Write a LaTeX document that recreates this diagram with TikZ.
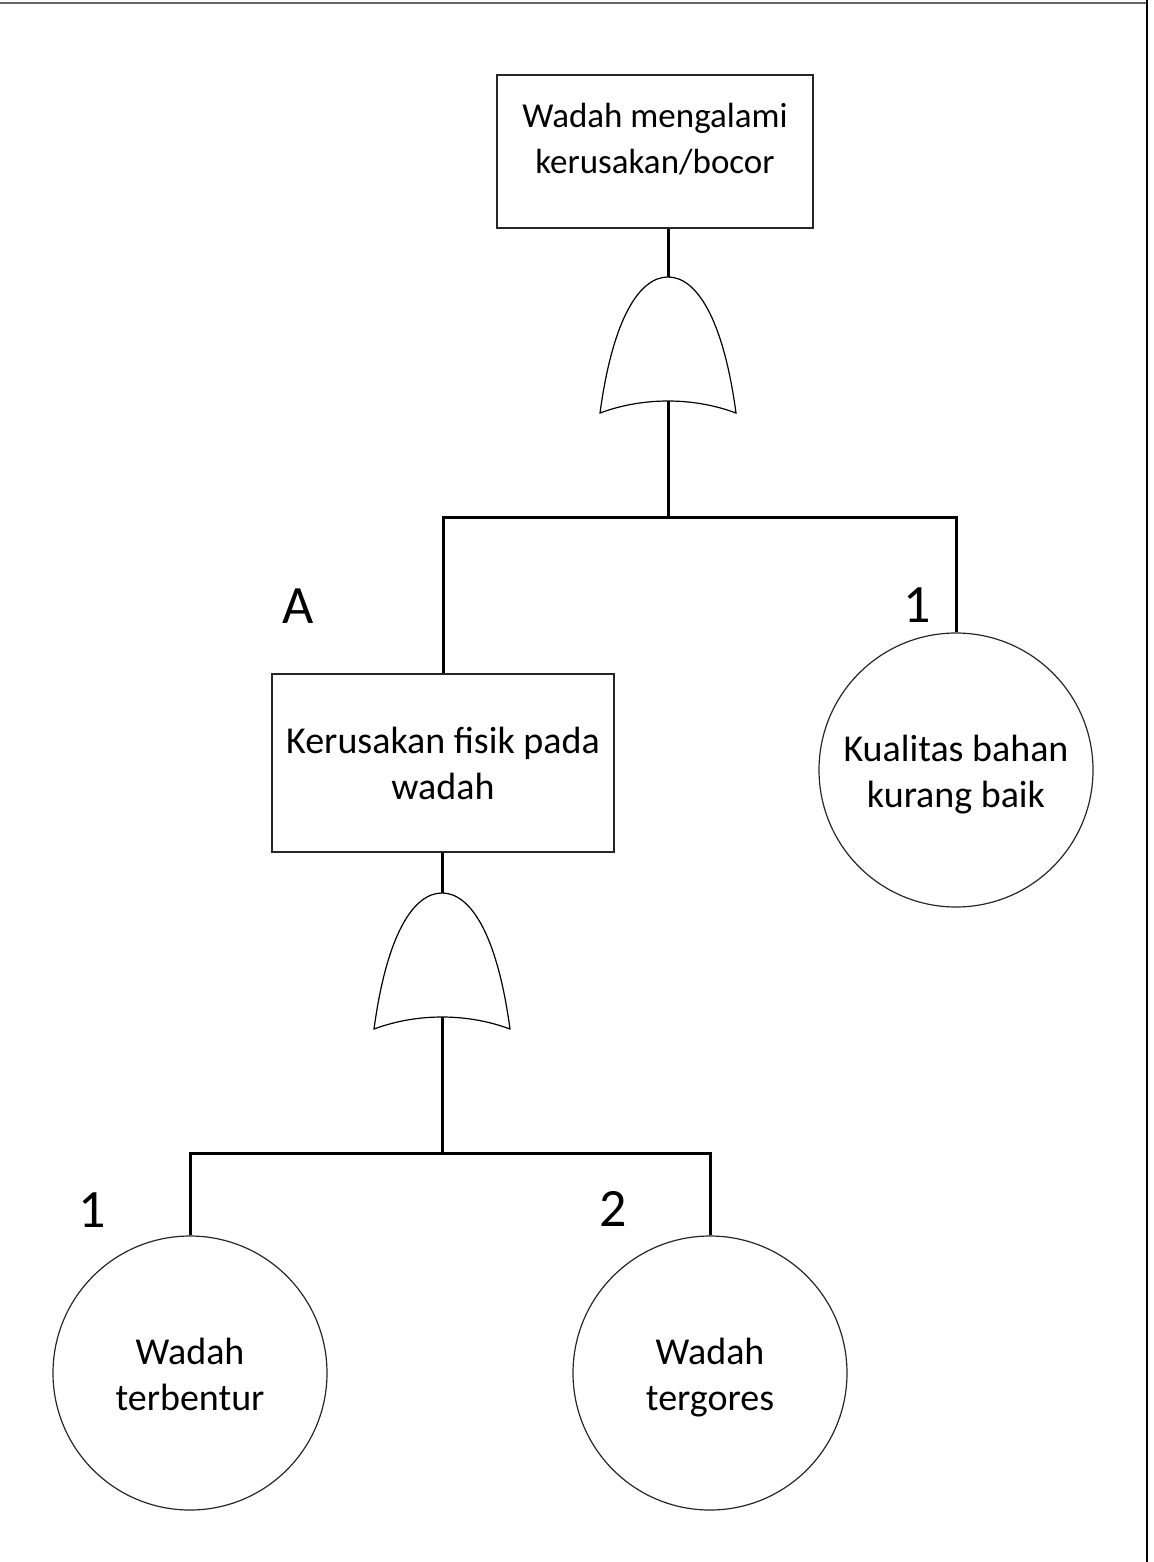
\documentclass[tikz,border=0pt]{standalone}
\usepackage{fontspec}
\setmainfont{Carlito}
\newcommand{\tallstrut}{\rule{0pt}{21pt}}
\begin{document}
\begin{tikzpicture}[x=0.5pt, y=-0.5pt,
  link/.style={line width=1.5pt},
  evbox/.style={draw=black!85, line width=0.6pt, inner sep=0pt},
  evtext/.style={align=center, font=\fontsize{19}{23}\selectfont},
  basic/.style={circle, draw=black!85, line width=0.6pt, minimum size=137pt, inner sep=0pt, align=center,
    font=\fontsize{19}{23}\selectfont},
  gate/.style={draw=black, line width=0.6pt, fill=white},
  tag/.style={font=\fontsize{27}{30}\selectfont}]
  \useasboundingbox (0,0) rectangle (1153,1562);

  \draw[black!60, line width=1.2pt] (0,3) -- (1148,3);
  \draw[line width=0.9pt] (1147,0) -- (1147,1562);

  \node[evbox, minimum width=158pt, minimum height=76.5pt] (top) at (655,151.5) {};
  \node[evtext, font=\fontsize{17.5}{23}\selectfont] (toptext) at (655,139) {Wadah mengalami\\kerusakan/bocor};

  \coordinate (g1) at (668,277);
  \coordinate (g1out) at (668,401);
  \coordinate (j1) at (668,517);

  \node[evbox, evtext, minimum width=171pt, minimum height=89pt] (evA) at (443,763) {Kerusakan fisik pada\\wadah};
  \node[basic] (b1) at (956,770) {\tallstrut Kualitas bahan\\kurang baik\strut};

  \coordinate (g2) at (442,893);
  \coordinate (g2out) at (442,1017);
  \coordinate (j2) at (442,1153);

  \node[basic] (b2) at (190,1373) {\tallstrut Wadah\\terbentur\strut};
  \node[basic] (b3) at (710,1373) {\tallstrut Wadah\\tergores\strut};

  \node[tag] (tagA) at (298,606) {A};
  \node[tag] (tag1) at (917,605) {1};
  \node[tag] (tag2) at (92,1210) {1};
  \node[tag] (tag3) at (613,1209) {2};

  \draw[link] (top.south -| g1) -- (g1);
  \draw[link] (g1out) -- (j1);
  \draw[link] (evA.north) -- (evA.north |- j1) -- (b1.north |- j1) -- (b1.north);

  \draw[link] (evA.south -| g2) -- (g2);
  \draw[link] (g2out) -- (j2);
  \draw[link] (b2.north) -- (b2.north |- j2) -- (b3.north |- j2) -- (b3.north);

  \foreach \g in {g1, g2} {
    \begin{scope}[shift={(\g)}]
      \draw[gate] (-68,136) .. controls (-55,40) and (-28,0) .. (0,0)
        .. controls (28,0) and (55,40) .. (68,136)
        .. controls (25,120) and (-25,120) .. cycle;
    \end{scope}
  }
\end{tikzpicture}
\end{document}
